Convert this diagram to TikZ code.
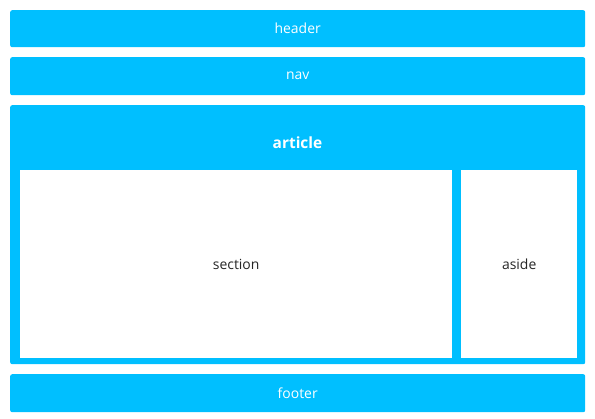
\documentclass[tikz,border=0pt]{standalone}
\usepackage{fontspec}
\setmainfont{Open Sans}
\definecolor{skyblue}{HTML}{00BFFF}
\tikzset{
  band/.style={fill=skyblue, rounded corners=2bp, inner sep=0pt, anchor=north west,
    text=white, font=\fontsize{14}{16}\selectfont},
  pane/.style={fill=white, inner sep=0pt, anchor=north west,
    text=black!85, font=\fontsize{14}{16}\selectfont}
}
\begin{document}
\begin{tikzpicture}[x=1bp,y=-1bp]
  \useasboundingbox (0,0) rectangle (595,418);
  % top bands
  \node[band, minimum width=575bp, minimum height=37bp] (header) at (10,10) {header};
  \node[band, minimum width=575bp, minimum height=38bp] (nav) at (10,57) {nav};
  % article with its two panes
  \node[band, minimum width=575bp, minimum height=259bp] (article) at (10,105) {};
  \node[text=white, font=\bfseries\fontsize{15.5}{18}\selectfont] (articletitle) at (297.5,143) {article};
  \node[pane, minimum width=432bp, minimum height=188bp] (section) at (20,170) {section};
  \node[pane, minimum width=116bp, minimum height=188bp] (aside) at (461,170) {aside};
  % bottom band
  \node[band, minimum width=575bp, minimum height=38bp] (footer) at (10,374) {footer};
\end{tikzpicture}
\end{document}
